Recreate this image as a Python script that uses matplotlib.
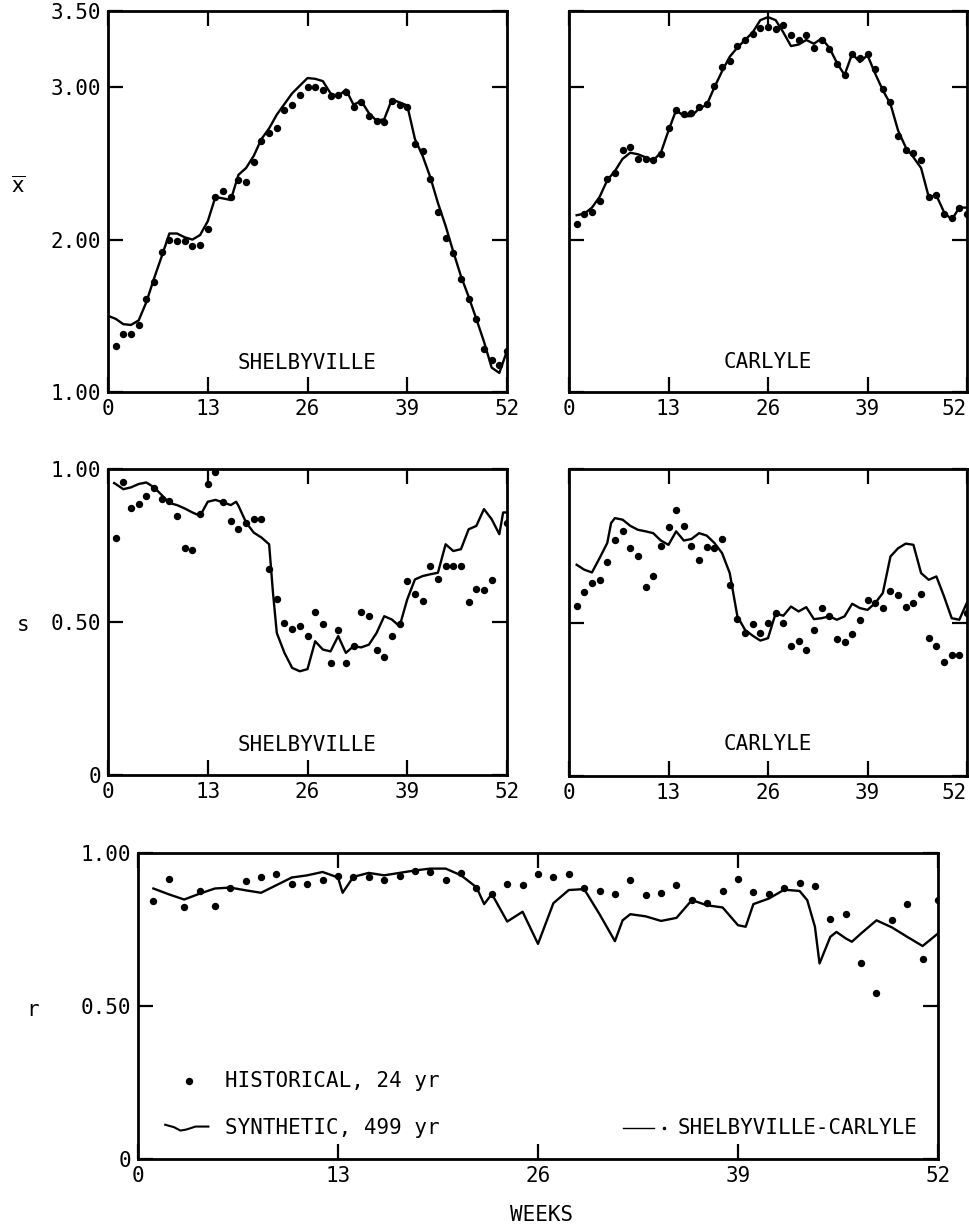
import numpy as np
import matplotlib
matplotlib.use('Agg')
import matplotlib.pyplot as plt

plt.rcParams['font.family'] = ['DejaVu Sans Mono', 'DejaVu Sans']
plt.rcParams['mathtext.fontset'] = 'dejavusans'

# weeks for historical (weekly) points
hist_weeks = list(range(1, 53))
week_ticks = [0, 13, 26, 39, 52]

# --- mean, x-bar ---
shel_mean_hist = [1.30, 1.38, 1.38, 1.44, 1.61, 1.72, 1.92, 2.00, 1.99, 1.99,
                  1.96, 1.965, 2.07, 2.28, 2.32, 2.28, 2.39, 2.38, 2.51, 2.65,
                  2.70, 2.73, 2.85, 2.88, 2.95, 3.00, 3.00, 2.98, 2.94, 2.95,
                  2.97, 2.87, 2.90, 2.81, 2.78, 2.77, 2.91, 2.88, 2.87, 2.63,
                  2.58, 2.40, 2.18, 2.01, 1.91, 1.74, 1.61, 1.48, 1.28, 1.21,
                  1.175, 1.27]
shel_mean_syn_wk = list(range(0, 53))
shel_mean_syn = [1.50, 1.48, 1.445, 1.44, 1.47, 1.59, 1.745, 1.89, 2.04, 2.04,
                 2.015, 2.00, 2.03, 2.12, 2.28, 2.27, 2.26, 2.425, 2.47, 2.55,
                 2.66, 2.73, 2.82, 2.89, 2.96, 3.01, 3.06, 3.055, 3.04, 2.96,
                 2.94, 2.985, 2.885, 2.91, 2.83, 2.78, 2.79, 2.92, 2.90, 2.88,
                 2.66, 2.55, 2.41, 2.24, 2.09, 1.92, 1.76, 1.625, 1.48, 1.33,
                 1.16, 1.125, 1.27]

carl_mean_hist = [2.105, 2.17, 2.18, 2.25, 2.40, 2.435, 2.59, 2.605, 2.53, 2.53,
                  2.52, 2.56, 2.73, 2.85, 2.825, 2.83, 2.87, 2.89, 3.01, 3.13,
                  3.17, 3.27, 3.31, 3.35, 3.39, 3.395, 3.38, 3.405, 3.34, 3.31,
                  3.345, 3.26, 3.31, 3.25, 3.155, 3.08, 3.22, 3.19, 3.22, 3.12,
                  2.99, 2.90, 2.68, 2.59, 2.57, 2.52, 2.28, 2.29, 2.17, 2.14,
                  2.21, 2.17]
carl_mean_syn_wk = list(range(1, 53))
carl_mean_syn = [2.16, 2.17, 2.21, 2.28, 2.39, 2.45, 2.53, 2.57, 2.56, 2.54,
                 2.52, 2.57, 2.715, 2.85, 2.81, 2.81, 2.86, 2.885, 3.00, 3.105,
                 3.20, 3.26, 3.31, 3.36, 3.44, 3.46, 3.44, 3.36, 3.27, 3.28,
                 3.31, 3.285, 3.32, 3.26, 3.16, 3.08, 3.22, 3.165, 3.21, 3.09,
                 2.98, 2.89, 2.715, 2.605, 2.54, 2.47, 2.28, 2.29, 2.18, 2.13,
                 2.21, 2.21]

# --- standard deviation, s ---
shel_sd_hist = [0.773, 0.956, 0.871, 0.885, 0.913, 0.937, 0.902, 0.896, 0.847, 0.743,
                0.736, 0.852, 0.951, 0.991, 0.891, 0.831, 0.803, 0.825, 0.836, 0.838,
                0.672, 0.574, 0.497, 0.478, 0.486, 0.454, 0.532, 0.495, 0.366, 0.473,
                0.366, 0.423, 0.532, 0.519, 0.408, 0.386, 0.454, 0.492, 0.634, 0.590,
                0.568, 0.683, 0.639, 0.683, 0.683, 0.683, 0.565, 0.609, 0.604, 0.636,
                np.nan, 0.823]
shel_sd_syn_wk = [0.8, 1, 2, 3, 4, 5, 6, 7, 8, 9, 10, 11, 12, 13, 14, 15, 16, 16.7,
                  17, 18, 19, 20, 21, 21.5, 22, 23, 24, 25, 26, 27, 28, 29, 30, 31,
                  32, 33, 34, 35, 36, 37, 38, 39, 40, 41, 42, 43, 44, 45, 46, 47, 48,
                  49, 50, 51, 51.5, 52]
shel_sd_syn = [0.954, 0.951, 0.934, 0.94, 0.951, 0.956, 0.94, 0.915, 0.889, 0.882,
               0.871, 0.858, 0.847, 0.893, 0.899, 0.891, 0.882, 0.893,
               0.88, 0.825, 0.792, 0.776, 0.754, 0.596, 0.464, 0.399, 0.35, 0.339,
               0.346, 0.437, 0.41, 0.404, 0.454, 0.399,
               0.421, 0.417, 0.426, 0.464, 0.519, 0.508, 0.486, 0.574, 0.639, 0.65,
               0.656, 0.661, 0.754, 0.732, 0.738, 0.803, 0.814,
               0.869, 0.836, 0.787, 0.858, 0.858]

carl_sd_hist = [0.554, 0.598, 0.628, 0.637, 0.696, 0.77, 0.797, 0.742, 0.715, 0.615,
                0.65, 0.748, 0.811, 0.865, 0.813, 0.75, 0.704, 0.746, 0.742, 0.772,
                0.623, 0.511, 0.467, 0.496, 0.465, 0.50, 0.53, 0.498, 0.422, 0.441,
                0.411, 0.476, 0.547, 0.52, 0.446, 0.438, 0.463, 0.509, 0.574, 0.565,
                0.547, 0.601, 0.59, 0.55, 0.565, 0.593, 0.449, 0.422, 0.37, 0.395,
                0.395, 0.53]
carl_sd_syn_wk = [1, 2, 3, 4, 5, 5.5] + list(range(6, 53))
carl_sd_syn = [0.688, 0.672, 0.663, 0.71, 0.759, 0.824,
               0.84, 0.835, 0.815, 0.802, 0.797, 0.791, 0.767, 0.753, 0.797, 0.767,
               0.772, 0.791, 0.783, 0.759, 0.726, 0.661, 0.52, 0.476, 0.457, 0.441,
               0.449, 0.53, 0.522, 0.552, 0.536, 0.55, 0.511, 0.514, 0.52, 0.509,
               0.52, 0.561, 0.547, 0.541, 0.563, 0.596, 0.715, 0.742, 0.757, 0.753,
               0.661, 0.639, 0.65, 0.585, 0.514, 0.509, 0.565]

# --- cross correlation, r ---
corr_hist = [0.843, 0.916, 0.824, 0.876, 0.826, 0.884, 0.909, 0.922, 0.933, 0.898,
             0.90, 0.911, 0.924, 0.92, 0.922, 0.913, 0.924, 0.941, 0.938, 0.913,
             0.935, 0.887, 0.866, 0.90, 0.895, 0.93, 0.92, 0.933, 0.887, 0.876,
             0.867, 0.911, 0.862, 0.87, 0.895, 0.846, 0.835, 0.876, 0.916, 0.873,
             0.865, 0.887, 0.902, 0.891, 0.783, 0.80, 0.641, 0.543, 0.78, 0.833,
             0.655, 0.848]
corr_syn_wk = [1, 2, 3, 4, 5, 6, 7, 8, 9, 10, 11, 12, 13, 13.3, 14, 15, 16, 17, 18,
               19, 20, 21, 22, 22.5, 23, 24, 25, 26, 27, 28, 29, 30, 31, 31.5, 32,
               33, 34, 35, 36, 37, 38, 39, 39.5, 40, 41, 42, 43, 43.5, 44, 44.3,
               45, 45.4, 46, 46.4, 47, 48, 49, 50, 51, 52]
corr_syn = [0.884, 0.865, 0.848, 0.867, 0.884, 0.887, 0.878, 0.87, 0.895, 0.92,
            0.927, 0.938, 0.92, 0.87, 0.922, 0.935, 0.927, 0.935, 0.943,
            0.949, 0.949, 0.927, 0.888, 0.833, 0.866, 0.776, 0.808, 0.703, 0.836,
            0.879, 0.882, 0.80, 0.712, 0.78, 0.80,
            0.793, 0.778, 0.788, 0.846, 0.829, 0.822, 0.764, 0.759, 0.833, 0.851,
            0.88, 0.876, 0.846, 0.759, 0.639,
            0.726, 0.742, 0.721, 0.71, 0.737, 0.78, 0.757, 0.726, 0.696, 0.737]

FS = 15
W, H = 970, 1230


def box(l, t, r, b):
    return [l / W, 1 - b / H, (r - l) / W, (b - t) / H]


def style(ax, yt, ylab, show_y=True):
    ax.set_xlim(0, 52)
    ax.set_xticks(week_ticks)
    ax.set_xticklabels([str(w) for w in week_ticks])
    ax.set_yticks(yt)
    ax.set_yticklabels(ylab)
    ax.tick_params(direction='in', length=11, width=1.6, top=True, right=True,
                   labelsize=FS, pad=5, labelleft=show_y)
    for sp in ax.spines.values():
        sp.set_linewidth(2)
    if not show_y:
        # the last week label sits against the page edge in the original
        ax.get_xticklabels()[-1].set_horizontalalignment('right')


def panel(ax, syn_wk, syn, hist):
    ax.plot(syn_wk, syn, color='black', lw=1.7, solid_joinstyle='round')
    ax.plot(hist_weeks, hist, 'o', color='black', ms=4.3, ls='none')


fig = plt.figure(figsize=(9.7, 12.3), dpi=100)

mean_ticks = [1.0, 2.0, 3.0, 3.5]
mean_labels = ['1.00', '2.00', '3.00', '3.50']
sd_ticks = [0, 0.5, 1.0]
sd_labels = ['0', '0.50', '1.00']

ax1 = fig.add_axes(box(108, 11, 507, 392))
panel(ax1, shel_mean_syn_wk, shel_mean_syn, shel_mean_hist)
ax1.set_ylim(1.0, 3.5)
style(ax1, mean_ticks, mean_labels)
ax1.text(0.5, 0.076, 'SHELBYVILLE', transform=ax1.transAxes, ha='center', va='center', fontsize=FS)

ax2 = fig.add_axes(box(569, 11, 967, 392))
panel(ax2, carl_mean_syn_wk, carl_mean_syn, carl_mean_hist)
ax2.set_ylim(1.0, 3.5)
style(ax2, mean_ticks, mean_labels, show_y=False)
ax2.text(0.5, 0.079, 'CARLYLE', transform=ax2.transAxes, ha='center', va='center', fontsize=FS)

ax3 = fig.add_axes(box(108, 469, 507, 775))
panel(ax3, shel_sd_syn_wk, shel_sd_syn, shel_sd_hist)
ax3.set_ylim(0, 1.0)
style(ax3, sd_ticks, sd_labels)
ax3.text(0.5, 0.098, 'SHELBYVILLE', transform=ax3.transAxes, ha='center', va='center', fontsize=FS)

ax4 = fig.add_axes(box(569, 469, 967, 776))
panel(ax4, carl_sd_syn_wk, carl_sd_syn, carl_sd_hist)
ax4.set_ylim(0, 1.0)
style(ax4, sd_ticks, sd_labels, show_y=False)
ax4.text(0.5, 0.105, 'CARLYLE', transform=ax4.transAxes, ha='center', va='center', fontsize=FS)

ax5 = fig.add_axes(box(138, 853, 938, 1159))
panel(ax5, corr_syn_wk, corr_syn, corr_hist)
ax5.set_ylim(0, 1.0)
style(ax5, sd_ticks, sd_labels)

# legend drawn by hand, like the original figure
tr = ax5.transAxes
ax5.plot([0.064], [0.255], 'o', color='black', ms=4.3, transform=tr, clip_on=False)
ax5.text(0.109, 0.255, 'HISTORICAL, 24 yr', transform=tr, ha='left', va='center', fontsize=FS)
ax5.plot([0.034, 0.045, 0.053, 0.060, 0.072, 0.088],
         [0.112, 0.104, 0.093, 0.096, 0.106, 0.106],
         color='black', lw=1.5, transform=tr, clip_on=False)
ax5.text(0.109, 0.101, 'SYNTHETIC, 499 yr', transform=tr, ha='left', va='center', fontsize=FS)
ax5.plot([0.606, 0.645], [0.101, 0.101], color='black', lw=1.0, transform=tr)
ax5.plot([0.657], [0.101], 'o', color='black', ms=1.5, transform=tr)
ax5.text(0.675, 0.101, 'SHELBYVILLE-CARLYLE', transform=tr, ha='left', va='center', fontsize=FS)

fig.text(18 / W, 1 - 186 / H, r'$\overline{\mathsf{x}}$', ha='center', va='center', fontsize=FS)
fig.text(23 / W, 1 - 625 / H, 's', ha='center', va='center', fontsize=FS)
fig.text(33 / W, 1 - 1010 / H, 'r', ha='center', va='center', fontsize=FS)
fig.text(542 / W, 1 - 1215 / H, 'WEEKS', ha='center', va='center', fontsize=FS)

fig.savefig('out.png', dpi=100, facecolor='white')
